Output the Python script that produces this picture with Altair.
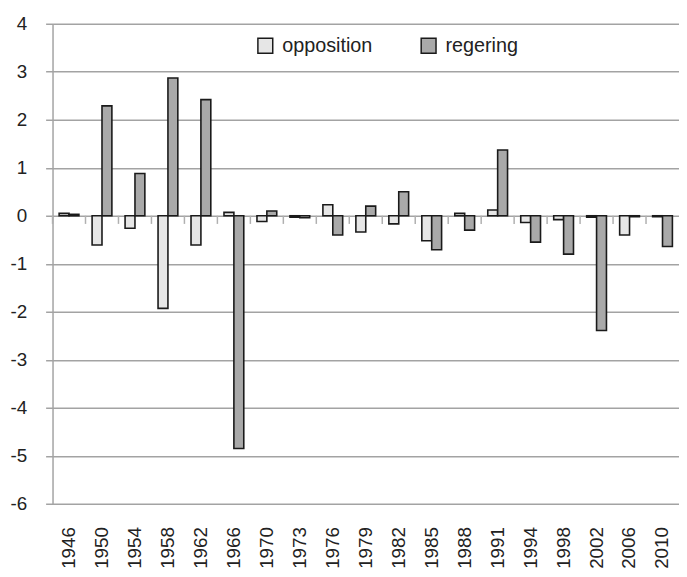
import altair as alt
import pandas as pd

years = ["1946", "1950", "1954", "1958", "1962", "1966", "1970", "1973", "1976", "1979",
         "1982", "1985", "1988", "1991", "1994", "1998", "2002", "2006", "2010"]
opposition = [0.05, -0.61, -0.26, -1.93, -0.61, 0.07, -0.12, -0.03, 0.23, -0.34,
              -0.17, -0.52, 0.05, 0.12, -0.14, -0.08, -0.03, -0.40, -0.02]
regering = [0.03, 2.29, 0.88, 2.87, 2.42, -4.85, 0.10, -0.04, -0.40, 0.20,
            0.50, -0.71, -0.30, 1.37, -0.55, -0.80, -2.39, -0.02, -0.64]
series = ["opposition", "regering"]
y_ticks = [-6, -5, -4, -3, -2, -1, 0, 1, 2, 3, 4]

rows = []
for i, yr in enumerate(years):
    rows.append({"year": yr, "series": "opposition", "value": opposition[i]})
    rows.append({"year": yr, "series": "regering", "value": regering[i]})
df = pd.DataFrame(rows)
tick_df = pd.DataFrame({"year": years})

FONT = "Liberation Sans"
GRID = "#a3a3a3"

bars = alt.Chart(df).mark_bar(stroke="#1a1a1a", strokeWidth=1.6).encode(
    x=alt.X("year:N", sort=years,
            scale=alt.Scale(paddingInner=0.4, paddingOuter=0.2),
            axis=alt.Axis(title=None, labelAngle=-90, ticks=False, domain=False, grid=False,
                          labelPadding=23, labelFontSize=19, labelFont=FONT, labelColor="#222")),
    xOffset=alt.XOffset("series:N", sort=series, scale=alt.Scale(paddingInner=0, paddingOuter=0)),
    y=alt.Y("value:Q", scale=alt.Scale(domain=[-6, 4], nice=False, zero=False),
            axis=alt.Axis(title=None, values=y_ticks, labelExpr="'' + datum.value",
                          grid=True, gridColor=GRID, gridWidth=1.5,
                          domainColor=GRID, domainWidth=1.5,
                          tickColor=GRID, tickWidth=1.5, tickSize=7,
                          labelPadding=19, labelFontSize=19, labelFont=FONT, labelColor="#222")),
    color=alt.Color("series:N",
                    scale=alt.Scale(domain=series, range=["#e6e6e6", "#a9a9a9"]),
                    legend=alt.Legend(title=None, orient="none", legendX=205, legendY=12,
                                      direction="horizontal", symbolType="square", symbolSize=225,
                                      symbolStrokeColor="#1a1a1a", symbolStrokeWidth=1.5,
                                      labelFontSize=20, labelFont=FONT, labelColor="#222",
                                      columnPadding=45, labelOffset=7)),
)

ticks = alt.Chart(tick_df).mark_rule(color="#b0b0b0", strokeWidth=1.5).encode(
    x=alt.X("year:N", sort=years, bandPosition=0,
            scale=alt.Scale(paddingInner=0, paddingOuter=0), axis=None),
    y=alt.datum(0),
    y2=alt.datum(-0.17),
)

chart = alt.layer(ticks, bars).resolve_scale(x="independent", xOffset="independent").properties(
    width=633, height=485,
    padding={"left": 45, "top": 13, "right": 0, "bottom": 62},
    autosize=alt.AutoSizeParams(type="none"),
).configure_view(stroke=None)

chart.save("out.html", embed_options={"renderer": "svg", "actions": False})
